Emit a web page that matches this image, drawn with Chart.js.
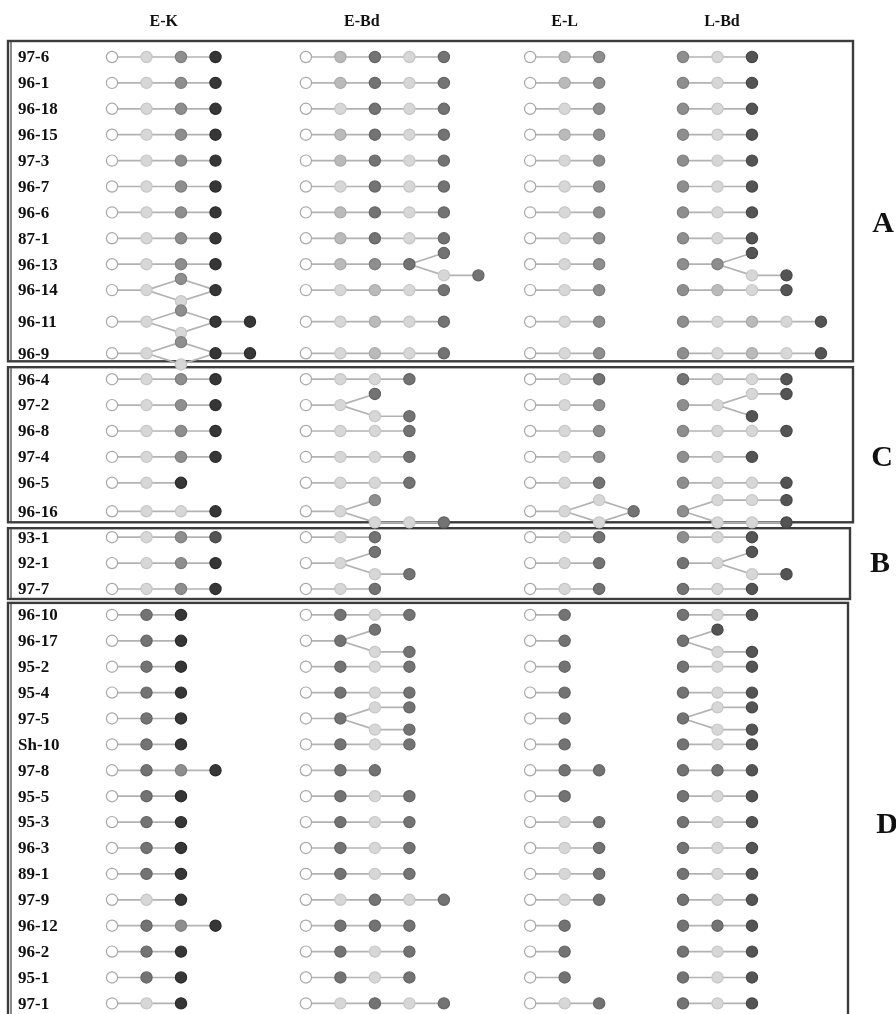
<!DOCTYPE html>
<html><head><meta charset="utf-8">
<script src="https://cdn.jsdelivr.net/npm/chart.js@4.4.1/dist/chart.umd.min.js"></script>
<style>html,body{margin:0;padding:0;background:#fff}#wrap{position:relative;width:896px;height:1014px}</style>
</head><body><div id="wrap"><canvas id="c"></canvas></div>
<script>
// ---------------- DATA ----------------
const isolates = ['97-6','96-1','96-18','96-15','97-3','96-7','96-6','87-1','96-13','96-14','96-11','96-9',
  '96-4','97-2','96-8','97-4','96-5','96-16',
  '93-1','92-1','97-7',
  '96-10','96-17','95-2','95-4','97-5','Sh-10','97-8','95-5','95-3','96-3','89-1','97-9','96-12','96-2','95-1','97-1'];
const columns = ['E-K','E-Bd','E-L','L-Bd'];
// node shade sequences; [up|down] = branch into two lanes, letters after ] merge back
const ekPaths = ['olmk','olmk','olmk','olmk','olmk','olmk','olmk','olmk','olmk','ol[m|l]k','ol[m|l]kk','ol[m|l]kk',
  'olmk','olmk','olmk','olmk','olk','ollk',
  'olmn','olmk','olmk',
  'odk','odk','odk','odk','odk','odk','odmk','odk','odk','odk','odk','olk','odmk','odk','odk','olk'];
const ebdPaths = ['oadld','oadld','oldld','oadld','oadld','oldld','oadld','oadld','oamd[d|ld]','olald','olald','olald',
  'olld','ol[d|ld]','olld','olld','olld','ol[m|lld]',
  'old','ol[d|ld]','old',
  'odld','od[d|ld]','odld','odld','od[ld|ld]','odld','odd','odld','odld','odld','odld','oldld','oddd','odld','odld','oldld'];
const elPaths = ['oam','oam','olm','oam','olm','olm','olm','olm','olm','olm','olm','olm',
  'old','olm','olm','olm','old','ol[l|l]d',
  'old','old','old',
  'od','od','od','od','od','od','odd','od','old','old','old','old','od','od','od','old'];
const lbdPaths = ['mln','mln','mln','mln','mln','mln','mln','mln','mm[n|ln]','maln','mlaln','mlaln',
  'dlln','ml[ln|n]','mlln','mln','mlln','m[lln|lln]',
  'mln','dl[n|ln]','dln',
  'dln','d[n|ln]','dln','dln','d[ln|ln]','dln','ddn','dln','dln','dln','dln','dln','ddn','dln','dln','dln'];
const clusterNames = ['A','C','B','D'];
const clusterFirst = ['97-6','96-4','93-1','96-10'];
const clusterLast  = ['96-9','96-16','97-7','97-1'];

// ---------------- STYLE / LAYOUT ----------------
const shadeFill = {o:'#ffffff', l:'#d7d7d7', a:'#bababa', m:'#8e8e8e', d:'#737373', n:'#545454', k:'#363636'};
const shadeBorder = {o:'#a8a8a8', l:'#c6c6c6', a:'#a9a9a9', m:'#7e7e7e', d:'#646464', n:'#474747', k:'#2a2a2a'};
const STEP_PX = 34.5, ROW_PX = 25.9, X0 = 112, Y0 = 57;
const colOffset = [0, 5.62, 12.12, 16.55];
const headerOffset = [1.5, 1.62, 1.0, 1.13];
const laneShift = 0.43;
const extraGap = {'96-11':0.22,'96-9':0.22,'96-16':0.1};
const boxPadTop = [16, 12, 9, 12], boxPadBot = [8, 11, 10, 40];
const boxRightPx = [853, 853, 850, 848], boxLeftPx = 8;
const letterRow = [6.45, 15.48, 19.6, 29.65], letterXPx = [883, 882, 880, 887];

const rowY = [];
let acc = 0;
isolates.forEach((n, i) => { acc += (extraGap[n] || 0); rowY.push(i + acc); });

function parseCell(str) {
  const nodes = [], edges = [];
  let step = 0, prev = [], i = 0;
  const add = (s, lane, ch, from) => {
    nodes.push({s, lane, ch});
    const id = nodes.length - 1;
    from.forEach(p => edges.push([p, id]));
    return id;
  };
  while (i < str.length) {
    const c = str[i];
    if (c === '[') {
      const j = str.indexOf(']', i);
      const parts = str.slice(i + 1, j).split('|');
      const ends = []; let maxStep = step;
      parts.forEach((p, k) => {
        const lane = k === 0 ? -1 : 1;
        let pr = prev.slice(), st = step;
        for (const ch of p) { pr = [add(st, lane, ch, pr)]; st++; }
        ends.push(...pr); maxStep = Math.max(maxStep, st);
      });
      prev = ends; step = maxStep; i = j + 1;
    } else {
      prev = [add(step, 0, c, prev)]; step++; i++;
    }
  }
  return {nodes, edges};
}

const allPaths = [ekPaths, ebdPaths, elPaths, lbdPaths];
const datasets = [];
const nodePts = [], nodeFill = [], nodeBorder = [];
allPaths.forEach((paths, g) => {
  paths.forEach((str, r) => {
    const {nodes, edges} = parseCell(str);
    const pos = nodes.map(n => ({x: colOffset[g] + n.s, y: rowY[r] + n.lane * laneShift}));
    edges.forEach(([a, b]) => {
      datasets.push({data: [pos[a], pos[b]], showLine: true, borderColor: '#b2b2b2', borderWidth: 1.7,
        pointRadius: 0, pointHoverRadius: 0, order: 1});
    });
    nodes.forEach((n, k) => { nodePts.push(pos[k]); nodeFill.push(shadeFill[n.ch]); nodeBorder.push(shadeBorder[n.ch]); });
  });
});
datasets.push({data: nodePts, showLine: false, pointRadius: 5.6, pointHoverRadius: 5.6,
  pointBackgroundColor: nodeFill, pointBorderColor: nodeBorder, pointBorderWidth: 1.2, order: 0});

const decor = {
  id: 'decor',
  beforeDatasetsDraw(chart) {
    const {ctx, scales: {x, y}} = chart;
    ctx.save();
    ctx.strokeStyle = '#3c3c3c'; ctx.lineWidth = 2.4;
    clusterNames.forEach((c, i) => {
      const t = y.getPixelForValue(rowY[isolates.indexOf(clusterFirst[i])]) - boxPadTop[i];
      const b = y.getPixelForValue(rowY[isolates.indexOf(clusterLast[i])]) + boxPadBot[i];
      ctx.strokeRect(boxLeftPx, t, boxRightPx[i] - boxLeftPx, b - t);
      ctx.beginPath(); ctx.lineWidth = 1.2; ctx.moveTo(boxLeftPx + 3, t + 1); ctx.lineTo(boxLeftPx + 3, b - 1); ctx.stroke();
      ctx.lineWidth = 2.4;
    });
    ctx.restore();
  },
  afterDatasetsDraw(chart) {
    const {ctx, scales: {x, y}} = chart;
    ctx.save();
    ctx.fillStyle = '#111';
    ctx.textBaseline = 'middle';
    ctx.font = 'bold 16px "Liberation Serif", "Times New Roman", serif';
    ctx.textAlign = 'center';
    columns.forEach((c, g) => ctx.fillText(c, x.getPixelForValue(colOffset[g] + headerOffset[g]), y.getPixelForValue(-1.35)));
    ctx.font = 'bold 17px "Liberation Serif", "Times New Roman", serif';
    ctx.textAlign = 'left';
    isolates.forEach((n, i) => ctx.fillText(n, 18, y.getPixelForValue(rowY[i]) + 1));
    ctx.font = 'bold 30px "Liberation Serif", "Times New Roman", serif';
    ctx.textAlign = 'center';
    clusterNames.forEach((c, i) => ctx.fillText(c, letterXPx[i], y.getPixelForValue(letterRow[i])));
    ctx.restore();
  }
};

new Chart(document.getElementById('c'), {
  type: 'scatter',
  data: {datasets},
  options: {
    responsive: true, maintainAspectRatio: false, animation: false,
    layout: {padding: 0, autoPadding: false},
    events: [],
    scales: {
      x: {type: 'linear', display: false, min: -X0 / STEP_PX, max: (896 - X0) / STEP_PX},
      y: {type: 'linear', display: false, reverse: true, min: -Y0 / ROW_PX, max: (1014 - Y0) / ROW_PX}
    },
    plugins: {legend: {display: false}, tooltip: {enabled: false}}
  },
  plugins: [decor]
});
</script></body></html>
